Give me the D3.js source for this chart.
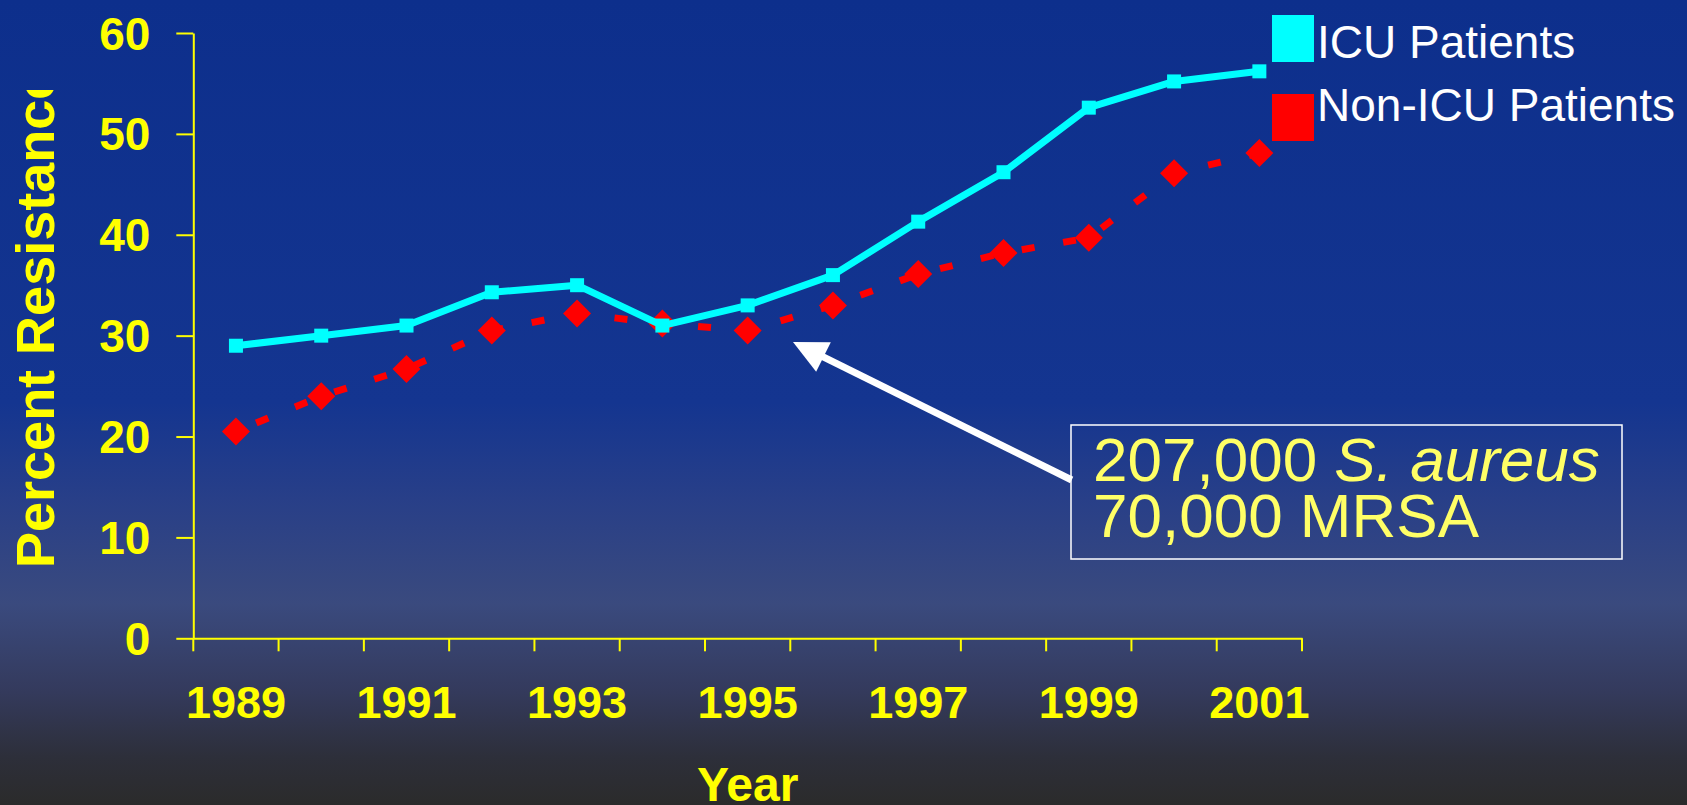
<!DOCTYPE html>
<html>
<head>
<meta charset="utf-8">
<script src="https://cdn.jsdelivr.net/npm/d3@7"></script>
<style>
  html, body { margin: 0; padding: 0; background: #0d2f8c; }
  svg { display: block; }
</style>
</head>
<body>
<script>
// Years on the horizontal axis
const years = [1989, 1990, 1991, 1992, 1993, 1994, 1995, 1996, 1997, 1998, 1999, 2000, 2001];
// Percent of S. aureus isolates resistant (MRSA)
const icuValues    = [29, 30, 31, 34.3, 35, 31, 33, 36, 41.3, 46.2, 52.6, 55.2, 56.2];
const nonIcuValues = [20.5, 24, 26.7, 30.5, 32.2, 31.2, 30.5, 33, 36.1, 38.2, 39.7, 46.1, 48.1];
const seriesNames  = ["ICU Patients", "Non-ICU Patients"];
const yTickValues  = [0, 10, 20, 30, 40, 50, 60];
const xTickLabels  = [1989, 1991, 1993, 1995, 1997, 1999, 2001];
const yTitle = "Percent Resistance";
const xTitle = "Year";
const noteLines = [["207,000", "S. aureus"], ["70,000 MRSA", ""]];

const W = 1687, H = 805;
const yellow = "#ffff00";
const font = "'Liberation Sans', Arial, Helvetica, sans-serif";

const svg = d3.select("body").append("svg")
  .attr("width", W).attr("height", H)
  .attr("viewBox", `0 0 ${W} ${H}`);

// Slide background: deep blue fading to charcoal at the bottom
const defs = svg.append("defs");
const grad = defs.append("linearGradient")
  .attr("id", "bg").attr("x1", 0).attr("y1", 0).attr("x2", 0).attr("y2", 1);
[[0, "#0d2f8c"], [0.5, "#143590"], [0.62, "#283f88"], [0.75, "#3a4a7e"],
 [0.86, "#343a5c"], [0.94, "#2d2f3a"], [1, "#2b2b2b"]]
  .forEach(([o, c]) => grad.append("stop").attr("offset", o).attr("stop-color", c));
svg.append("rect").attr("width", W).attr("height", H).attr("fill", "url(#bg)");

defs.append("clipPath").attr("id", "titleClip")
  .attr("clipPathUnits", "userSpaceOnUse")
  .append("rect").attr("x", 0).attr("y", 90).attr("width", 200).attr("height", H);

// Scales
const x = d3.scaleBand().domain(years).range([193.3, 1302]).padding(0);
const y = d3.scaleLinear().domain([0, 60]).range([638.3, 33]);
const cx = d => x(d) + x.bandwidth() / 2;

// Y axis
const yAxis = svg.append("g")
  .attr("transform", "translate(193.3,0)")
  .call(d3.axisLeft(y).tickValues(yTickValues).tickSize(17).tickSizeOuter(0).tickPadding(26));
yAxis.select(".domain").attr("stroke", yellow).attr("stroke-width", 2);
yAxis.selectAll(".tick line").attr("stroke", yellow).attr("stroke-width", 2);
yAxis.selectAll(".tick text")
  .attr("fill", yellow).attr("font-family", font).attr("font-weight", "bold")
  .attr("font-size", 46).attr("dy", "0.35em");

// X axis: labels on alternate year centres, ticks on category boundaries
const xAxis = svg.append("g")
  .attr("transform", "translate(0,638.3)")
  .call(d3.axisBottom(x).tickSize(0).tickSizeOuter(0).tickPadding(48)
    .tickFormat(d => xTickLabels.includes(d) ? String(d) : ""));
xAxis.select(".domain").attr("stroke", yellow).attr("stroke-width", 2);
xAxis.selectAll(".tick text")
  .attr("fill", yellow).attr("font-family", font).attr("font-weight", "bold")
  .attr("font-size", 45);
const boundaries = years.map(d => x(d)).concat([x.range()[1]]);
xAxis.selectAll("line.bound").data(boundaries).join("line")
  .attr("class", "bound")
  .attr("x1", d => d).attr("x2", d => d)
  .attr("y1", 0).attr("y2", 13)
  .attr("stroke", yellow).attr("stroke-width", 2);

// Axis titles
svg.append("g").attr("clip-path", "url(#titleClip)")
  .append("text")
  .attr("transform", "translate(54,568) rotate(-90)")
  .attr("fill", yellow).attr("font-family", font).attr("font-weight", "bold")
  .attr("font-size", 54)
  .text(yTitle);

svg.append("text")
  .attr("x", (x.range()[0] + x.range()[1]) / 2).attr("y", 801)
  .attr("text-anchor", "middle")
  .attr("fill", yellow).attr("font-family", font).attr("font-weight", "bold")
  .attr("font-size", 48)
  .text(xTitle);

// Non-ICU series: dashed red line with diamond markers
const nonIcu = years.map((d, i) => ({ year: d, v: nonIcuValues[i] }));
const icu = years.map((d, i) => ({ year: d, v: icuValues[i] }));
const line = d3.line().x(d => cx(d.year)).y(d => y(d.v));

svg.append("path").datum(nonIcu)
  .attr("d", line)
  .attr("fill", "none").attr("stroke", "#ff0000")
  .attr("stroke-width", 7).attr("stroke-dasharray", "13 29")
  .attr("stroke-dashoffset", -22);
svg.selectAll("path.diamond").data(nonIcu).join("path")
  .attr("class", "diamond")
  .attr("d", d3.symbol(d3.symbolSquare, 392)())
  .attr("transform", d => `translate(${cx(d.year)},${y(d.v)}) rotate(45)`)
  .attr("fill", "#ff0000");

// ICU series: solid cyan line with square markers
svg.append("path").datum(icu)
  .attr("d", line)
  .attr("fill", "none").attr("stroke", "#00ffff")
  .attr("stroke-width", 7).attr("stroke-linejoin", "round");
svg.selectAll("rect.sq").data(icu).join("rect")
  .attr("class", "sq")
  .attr("x", d => cx(d.year) - 7).attr("y", d => y(d.v) - 7)
  .attr("width", 14).attr("height", 14)
  .attr("fill", "#00ffff");

// Legend: swatches and labels sit on slightly different rows
const legendColors = ["#00ffff", "#ff0000"];
const swatchTops = [15, 94];
const labelBaselines = [58, 121];
const legend = svg.selectAll("g.legend").data(seriesNames).join("g")
  .attr("class", "legend");
legend.append("rect")
  .attr("x", 1272).attr("y", (d, i) => swatchTops[i])
  .attr("width", 42).attr("height", 47)
  .attr("fill", (d, i) => legendColors[i]);
legend.append("text")
  .attr("x", 1317).attr("y", (d, i) => labelBaselines[i])
  .attr("fill", "#ffffff").attr("font-family", font).attr("font-size", 46)
  .text(d => d);

// Callout arrow pointing at the 1995 dip
const tip = [793, 342], tail = [1071.7, 480];
const dx = tip[0] - tail[0], dy = tip[1] - tail[1];
const len = Math.hypot(dx, dy), ux = dx / len, uy = dy / len;
const headLen = 34, headHalf = 16.5;
const base = [tip[0] - ux * headLen, tip[1] - uy * headLen];
svg.append("line")
  .attr("x1", tail[0]).attr("y1", tail[1])
  .attr("x2", base[0] + ux * 2).attr("y2", base[1] + uy * 2)
  .attr("stroke", "#ffffff").attr("stroke-width", 7);
svg.append("path")
  .attr("d", `M${tip[0]},${tip[1]}L${base[0] - uy * headHalf},${base[1] + ux * headHalf}L${base[0] + uy * headHalf},${base[1] - ux * headHalf}Z`)
  .attr("fill", "#ffffff");

// Callout box with its two lines of text
svg.append("rect")
  .attr("x", 1071).attr("y", 425).attr("width", 551).attr("height", 134)
  .attr("fill", "none").attr("stroke", "#ffffff").attr("stroke-width", 1.5);
noteLines.forEach((parts, i) => {
  const lineY = 481 + i * 56;
  const first = svg.append("text")
    .attr("x", 1093).attr("y", lineY)
    .attr("fill", "#ffff66").attr("font-family", font).attr("font-size", 62)
    .text(parts[0]);
  if (parts[1]) {
    const gap = 62 * 0.278;
    svg.append("text")
      .attr("x", 1093 + first.node().getComputedTextLength() + gap).attr("y", lineY)
      .attr("fill", "#ffff66").attr("font-family", font).attr("font-size", 62)
      .attr("font-style", "italic")
      .text(parts[1]);
  }
});
</script>
</body>
</html>
